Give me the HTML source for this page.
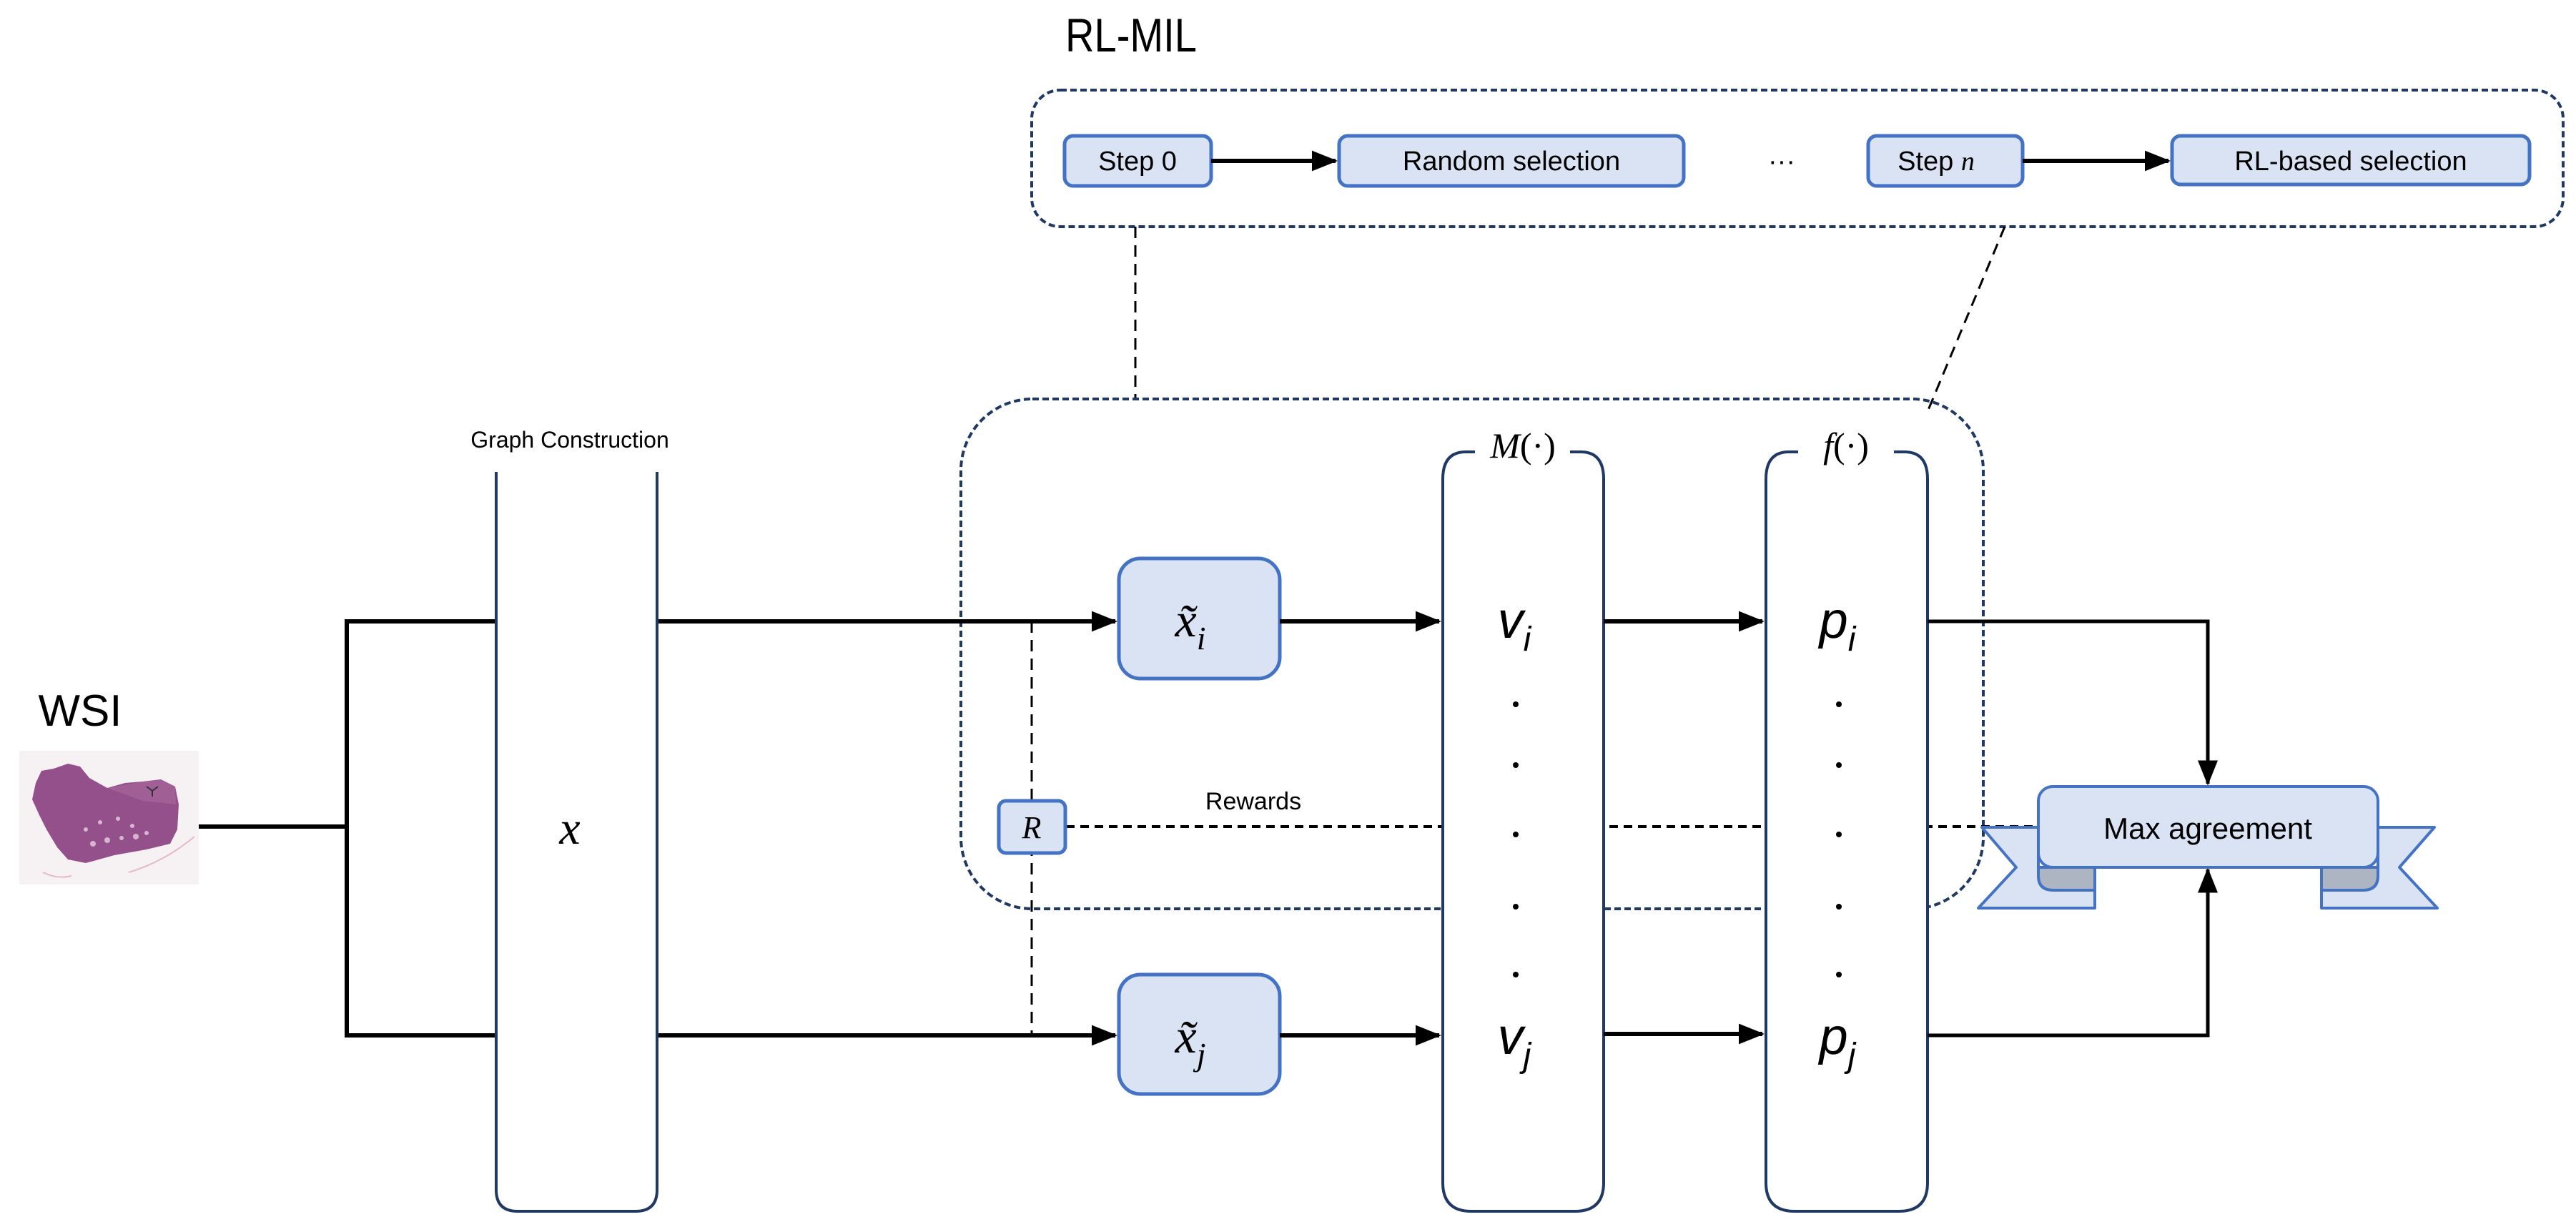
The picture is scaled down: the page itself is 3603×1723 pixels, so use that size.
<!DOCTYPE html>
<html><head><meta charset="utf-8"><style>
html,body{margin:0;padding:0;background:#fff;}
svg{display:block;}
text{font-family:"Liberation Sans",sans-serif;}
.m{font-family:"Liberation Serif",serif;font-style:italic;}
</style></head><body>
<svg width="3603" height="1723" viewBox="0 0 3603 1723" xmlns="http://www.w3.org/2000/svg">
<defs>
<marker id="ar" markerWidth="6" markerHeight="6" refX="5.5" refY="3" orient="auto" markerUnits="strokeWidth">
<path d="M0,0.6 L6,3 L0,5.4 z" fill="#000"/></marker>
<marker id="ar2" markerWidth="7" markerHeight="7" refX="6.5" refY="3.5" orient="auto" markerUnits="strokeWidth">
<path d="M0,0.7 L7,3.5 L0,6.3 z" fill="#000"/></marker>
</defs>
<rect width="3603" height="1723" fill="#fff"/>

<text x="1490" y="72" font-size="66" transform="translate(1490,0) scale(0.85,1) translate(-1490,0)">RL-MIL</text>

<rect x="1443" y="126" width="2142" height="191" rx="40" fill="none" stroke="#1f3864" stroke-width="4" stroke-dasharray="9,5"/>
<g stroke="#4472c4" stroke-width="5" fill="#dae3f3">
<rect x="1489" y="190" width="205" height="70" rx="12"/>
<rect x="1873" y="190" width="482" height="70" rx="12"/>
<rect x="2613" y="190" width="216" height="70" rx="12"/>
<rect x="3038" y="190" width="500" height="68" rx="12"/>
</g>
<g font-size="38" text-anchor="middle">
<text x="1591" y="238">Step 0</text>
<text x="2114" y="238">Random selection</text>
<text x="2708" y="238">Step <tspan class="m">n</tspan></text>
<text x="3288" y="238">RL-based selection</text>
<text x="2492" y="238">···</text>
</g>
<line x1="1694" y1="225" x2="1868" y2="225" stroke="#000" stroke-width="6" marker-end="url(#ar)"/>
<line x1="2829" y1="225" x2="3033" y2="225" stroke="#000" stroke-width="6" marker-end="url(#ar)"/>

<line x1="1588" y1="317" x2="1588" y2="558" stroke="#000" stroke-width="3" stroke-dasharray="16,10"/>
<line x1="2804" y1="317" x2="2695" y2="578" stroke="#000" stroke-width="3" stroke-dasharray="16,10"/>

<rect x="1344" y="558" width="1430" height="713" rx="100" fill="none" stroke="#1f3864" stroke-width="4" stroke-dasharray="9,5"/>

<text x="112" y="1015" font-size="62" text-anchor="middle">WSI</text>
<rect x="27" y="1050" width="251" height="187" fill="#f6f1f3"/>
<path d="M58,1078 L75,1075 L95,1068 L112,1072 L125,1088 L150,1102 L175,1095 L200,1093 L225,1090 L245,1100 L250,1125 L248,1160 L238,1180 L205,1188 L160,1196 L120,1207 L95,1202 L80,1185 L65,1160 L55,1140 L45,1118 L50,1095 Z" fill="#93508a"/>
<path d="M150,1102 L200,1093 L225,1090 L245,1100 L246,1125 L200,1120 Z" fill="#a86a9e" opacity="0.6"/>
<g fill="#e8cfe0" opacity="0.8">
<circle cx="130" cy="1180" r="4"/><circle cx="150" cy="1175" r="4"/><circle cx="170" cy="1172" r="3"/><circle cx="190" cy="1170" r="4"/><circle cx="140" cy="1150" r="3"/><circle cx="165" cy="1145" r="3"/><circle cx="185" cy="1155" r="3"/><circle cx="120" cy="1160" r="3"/><circle cx="205" cy="1165" r="3"/>
</g>
<path d="M205,1100 l8,6 l8,-6 M213,1106 l0,8" stroke="#333" stroke-width="2" fill="none"/>
<path d="M180,1220 Q230,1205 272,1170 M60,1220 Q80,1230 100,1225" stroke="#e5b8cc" stroke-width="2" fill="none"/>

<g stroke="#000" stroke-width="6" fill="none">
<line x1="278" y1="1156" x2="485" y2="1156"/>
<polyline points="694,869 485,869 485,1448 694,1448"/>
</g>
<line x1="919" y1="869" x2="1560" y2="869" stroke="#000" stroke-width="6" marker-end="url(#ar)"/>
<line x1="919" y1="1448" x2="1560" y2="1448" stroke="#000" stroke-width="6" marker-end="url(#ar)"/>

<line x1="1443" y1="869" x2="1443" y2="1448" stroke="#000" stroke-width="3" stroke-dasharray="16,10"/>
<line x1="1491" y1="1156" x2="2852" y2="1156" stroke="#000" stroke-width="4" stroke-dasharray="12,8"/>
<text x="1753" y="1132" font-size="34" text-anchor="middle">Rewards</text>
<rect x="1397" y="1120" width="93" height="73" rx="10" fill="#dae3f3" stroke="#4472c4" stroke-width="5"/>
<text x="1443" y="1172" font-size="44" class="m" text-anchor="middle">R</text>

<text x="797" y="626" font-size="32" text-anchor="middle">Graph Construction</text>
<path d="M694,660 L694,1664 Q694,1694 724,1694 L889,1694 Q919,1694 919,1664 L919,660" fill="#fff" stroke="#1f3864" stroke-width="4"/>
<text x="797" y="1180" font-size="66" class="m" text-anchor="middle">x</text>

<rect x="1565" y="781" width="225" height="168" rx="30" fill="#dae3f3" stroke="#4472c4" stroke-width="5"/>
<rect x="1565" y="1363" width="225" height="167" rx="30" fill="#dae3f3" stroke="#4472c4" stroke-width="5"/>
<text x="1665" y="890" font-size="68" class="m" text-anchor="middle">x̃<tspan font-size="46" dy="18">i</tspan></text>
<text x="1665" y="1472" font-size="68" class="m" text-anchor="middle">x̃<tspan font-size="46" dy="18">j</tspan></text>

<g fill="#fff" stroke="#1f3864" stroke-width="4">
<path d="M2063,632 L2050,632 Q2018,632 2018,670 L2018,1654 Q2018,1694 2058,1694 L2203,1694 Q2243,1694 2243,1654 L2243,670 Q2243,632 2211,632 L2196,632"/>
<path d="M2515,632 L2502,632 Q2470,632 2470,670 L2470,1654 Q2470,1694 2510,1694 L2656,1694 Q2696,1694 2696,1654 L2696,670 Q2696,632 2664,632 L2649,632"/>
</g>
<rect x="2066" y="600" width="128" height="60" fill="#fff"/>
<rect x="2518" y="600" width="128" height="60" fill="#fff"/>
<text x="2130" y="640" font-size="50" class="m" text-anchor="middle">M<tspan font-style="normal">(·)</tspan></text>
<text x="2582" y="640" font-size="50" class="m" text-anchor="middle">f<tspan font-style="normal">(·)</tspan></text>

<g font-size="72" class="m" text-anchor="middle">
<text x="2118" y="892">v<tspan font-size="48" dy="18">i</tspan></text>
<text x="2118" y="1474">v<tspan font-size="48" dy="18">j</tspan></text>
<text x="2570" y="892">p<tspan font-size="48" dy="18">i</tspan></text>
<text x="2570" y="1474">p<tspan font-size="48" dy="18">j</tspan></text>
</g>
<g fill="#000">
<circle cx="2120" cy="985" r="4"/><circle cx="2120" cy="1070" r="4"/><circle cx="2120" cy="1167" r="4"/><circle cx="2120" cy="1268" r="4"/><circle cx="2120" cy="1363" r="4"/>
<circle cx="2572" cy="985" r="4"/><circle cx="2572" cy="1070" r="4"/><circle cx="2572" cy="1167" r="4"/><circle cx="2572" cy="1268" r="4"/><circle cx="2572" cy="1363" r="4"/>
</g>

<g stroke="#000" stroke-width="6" marker-end="url(#ar)">
<line x1="1790" y1="869" x2="2013" y2="869"/>
<line x1="1790" y1="1448" x2="2013" y2="1448"/>
<line x1="2243" y1="869" x2="2465" y2="869"/>
<line x1="2243" y1="1446" x2="2465" y2="1446"/>
</g>
<g stroke="#000" stroke-width="5" fill="none">
<polyline points="2696,869 3088,869 3088,1096" marker-end="url(#ar2)"/>
<polyline points="2696,1448 3088,1448 3088,1216" marker-end="url(#ar2)"/>
</g>

<g stroke="#4472c4" stroke-width="4" stroke-linejoin="round">
<path d="M2772,1157 L2851,1157 L2851,1213 L2930,1213 L2930,1270 L2767,1270 L2820,1213 Z" fill="#dae3f3"/>
<path d="M3405,1157 L3326,1157 L3326,1213 L3247,1213 L3247,1270 L3409,1270 L3356,1213 Z" fill="#dae3f3"/>
<path d="M2851,1213 L2930,1213 L2930,1245 L2872,1245 Q2851,1245 2851,1225 Z" fill="#adb5c2"/>
<path d="M3326,1213 L3247,1213 L3247,1245 L3305,1245 Q3326,1245 3326,1225 Z" fill="#adb5c2"/>
<rect x="2851" y="1100" width="475" height="113" rx="20" fill="#dae3f3"/>
</g>
<text x="3088" y="1173" font-size="42" text-anchor="middle">Max agreement</text>
</svg>
</body></html>
